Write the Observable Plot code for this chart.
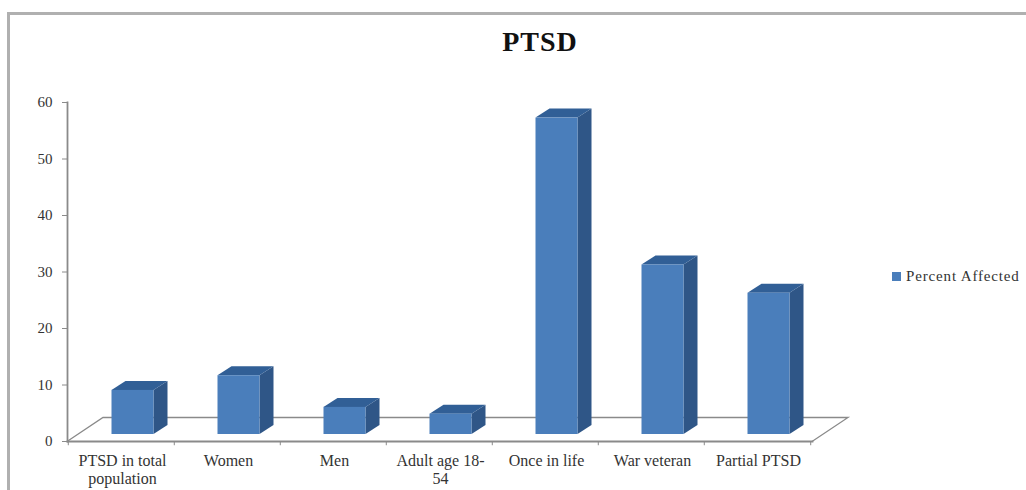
<!DOCTYPE html>
<html>
<head>
<meta charset="utf-8">
<script src="https://cdn.jsdelivr.net/npm/d3@7"></script>
<script src="https://cdn.jsdelivr.net/npm/@observablehq/plot@0.6"></script>
<style>
  html, body { margin: 0; padding: 0; background: #fff; overflow: hidden; }
  #chart { position: relative; width: 1026px; height: 490px; font-family: "Liberation Serif", serif; color: #333; }
  #chart svg { position: absolute; left: 0; top: 0; background: transparent; }
  #border { position: absolute; left: 7px; top: 12px; right: 0; bottom: 0; border-left: 3px solid #b0b0b0; border-top: 3px solid #b0b0b0; }
  #title { position: absolute; left: 440px; width: 200px; top: 26px; text-align: center; font-size: 28px; font-weight: bold; color: #111; letter-spacing: 1px; }
  #legend { position: absolute; left: 892px; top: 268px; font-size: 15px; letter-spacing: 0.85px; white-space: nowrap; display: flex; align-items: center; gap: 5px; }
  #legend i { display: block; width: 9px; height: 9px; background: #4a7ebb; }
</style>
</head>
<body>
<div id="chart">
  <div id="border"></div>
  <div id="title">PTSD</div>
  <div id="legend"><i></i><span>Percent Affected</span></div>
</div>
<script>
const categories = ["PTSD in total", "Women", "Men", "Adult age 18-", "Once in life", "War veteran", "Partial PTSD"];
const secondLines = ["population", "", "", "54", "", "", ""];
const percentAffected = [7.8, 10.4, 4.8, 3.6, 56, 30, 25];
const yTicks = [0, 10, 20, 30, 40, 50, 60];

const rows = categories.map((category, i) => ({category, value: percentAffected[i]}));
const tickLabels = new Map(categories.map((c, i) => [c, secondLines[i] ? c + "\n" + secondLines[i] : c]));

const axisColor = "#8a8a8a";
const frontColor = "#4a7ebb";
const sideColor = "#2f5687";
const topColor = "#315f96";

// Front faces stand on the floor, nudged away from the front edge of the box.
const barShift = {dx: 11.5, dy: -7};
const depth = {x: 14, y: 9};
const floorDepth = {x: 36, y: 24};

// Turns each bar rectangle into one of the receding faces of a 3D column.
function extrude(pointsOf) {
  return (index, scales, values, dimensions, context, next) => {
    const g = next(index, scales, values, dimensions, context);
    d3.select(g).selectAll("rect").each(function () {
      const r = this;
      const x = +r.getAttribute("x"), y = +r.getAttribute("y");
      const w = +r.getAttribute("width"), h = +r.getAttribute("height");
      const poly = document.createElementNS("http://www.w3.org/2000/svg", "polygon");
      poly.setAttribute("points", pointsOf(x, y, w, h).map(p => p.join(",")).join(" "));
      r.replaceWith(poly);
    });
    return g;
  };
}

// Stretches the zero rule into the outline of the chart's floor.
function floorOutline(index, scales, values, dimensions, context, next) {
  const g = next(index, scales, values, dimensions, context);
  d3.select(g).selectAll("line").each(function () {
    const x1 = +this.getAttribute("x1"), x2 = +this.getAttribute("x2"), y = +this.getAttribute("y1");
    const line = document.createElementNS("http://www.w3.org/2000/svg", "polyline");
    const b = y - floorDepth.y;
    line.setAttribute("points", `${x1},${y} ${x1 + floorDepth.x},${b} ${x2 + floorDepth.x},${b} ${x2},${y}`);
    line.setAttribute("fill", "none");
    this.replaceWith(line);
  });
  return g;
}

const step = 745 / 7;

const plot = Plot.plot({
  width: 1026,
  height: 490,
  marginLeft: 67,
  marginRight: 214,
  marginTop: 102,
  marginBottom: 49,
  style: {fontFamily: "'Liberation Serif', serif", fontSize: "15px", color: "#333", background: "transparent"},
  x: {type: "band", domain: categories, paddingInner: 0.6, paddingOuter: 0.3, label: null},
  y: {domain: [0, 60], label: null},
  marks: [
    Plot.ruleY([0], {stroke: axisColor, strokeWidth: 1.3, render: floorOutline}),
    Plot.barY(rows, {x: "category", y: "value", fill: sideColor, ...barShift,
      render: extrude((x, y, w, h) => [[x + w, y], [x + w + depth.x, y - depth.y], [x + w + depth.x, y + h - depth.y], [x + w, y + h]])}),
    Plot.barY(rows, {x: "category", y: "value", fill: topColor, ...barShift,
      render: extrude((x, y, w) => [[x, y], [x + depth.x, y - depth.y], [x + w + depth.x, y - depth.y], [x + w, y]])}),
    Plot.barY(rows, {x: "category", y: "value", fill: frontColor, ...barShift}),
    Plot.frame({anchor: "left", stroke: axisColor, strokeWidth: 1.8}),
    Plot.frame({anchor: "bottom", stroke: axisColor, strokeWidth: 1.8}),
    Plot.axisY({ticks: yTicks, tickSize: 5, tickPadding: 10, stroke: axisColor, fill: "#333",
      textStroke: "none", style: {letterSpacing: "0.8px"}, label: null}),
    // Divider ticks sit on the category boundaries, half a step from each band centre.
    Plot.ruleX(categories, {x: d => d, y1: 0, y2: -0.75, dx: -step / 2, stroke: axisColor}),
    Plot.ruleX(categories.slice(-1), {x: d => d, y1: 0, y2: -0.75, dx: step / 2, stroke: axisColor}),
    Plot.axisX({tickSize: 0, tickPadding: 12, lineAnchor: "top", lineHeight: 1.1, fill: "#333", fontSize: 16, dx: 1,
      tickFormat: d => tickLabels.get(d), style: {letterSpacing: "1px"}, label: null})
  ]
});
document.getElementById("chart").appendChild(plot);
</script>
</body>
</html>
